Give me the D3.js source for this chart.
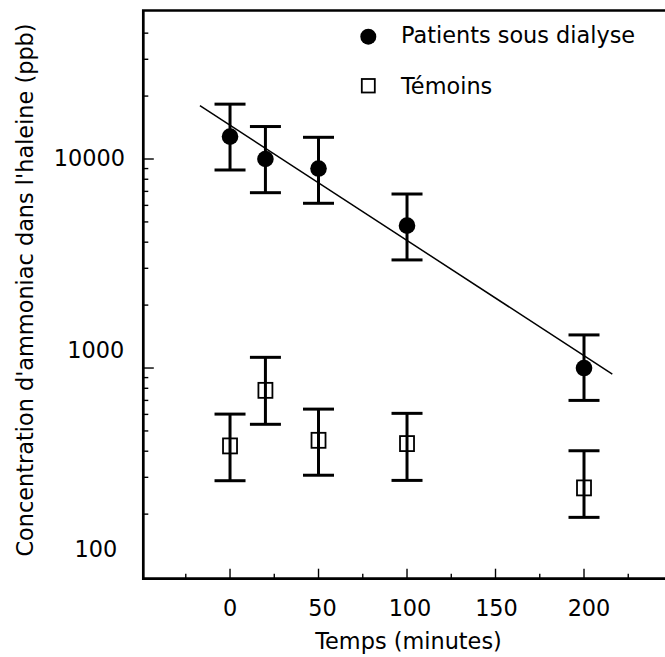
<!DOCTYPE html>
<html>
<head>
<meta charset="utf-8">
<script src="https://cdn.jsdelivr.net/npm/d3@7"></script>
<style>
  html, body { margin: 0; padding: 0; background: #fff; }
  svg { display: block; }
  text { font-family: "DejaVu Sans", sans-serif; fill: #000; }
</style>
</head>
<body>
<svg id="chart" width="665" height="657"></svg>
<script>
// ---- data ----
const times = [0, 20, 50, 100, 200];
const patients = [12800, 10000, 9000, 4800, 1000];
const patientsHigh = [18300, 14300, 12700, 6800, 1440];
const patientsLow = [8860, 6900, 6140, 3290, 700];
const temoins = [424, 782, 451, 435, 267];
const temoinsHigh = [602, 1125, 636, 607, 402];
const temoinsLow = [289, 538, 307, 290, 193];
const fitX = [-17, 216];
const fitY = [18000, 935];
const xTicks = [0, 50, 100, 150, 200];
const xMinorTicks = [-25, 25, 75, 125, 175, 225];
const yTicks = [100, 1000, 10000];
const yTickLabels = ["100", "1000", "10000"];
const yMinorTicks = [200, 300, 400, 500, 600, 700, 800, 900,
  2000, 3000, 4000, 5000, 6000, 7000, 8000, 9000, 20000, 30000, 40000];
const seriesNames = ["Patients sous dialyse", "Témoins"];
const xLabel = "Temps (minutes)";
const yLabel = "Concentration d'ammoniac dans l'haleine (ppb)";

// ---- layout ----
const svg = d3.select("#chart");
const pLeft = 143.3, pRight = 672.5, pTop = 10.5, pBottom = 578.7;
const x = d3.scaleLinear().domain([-49, 250]).range([pLeft, pRight]);
const y = d3.scaleLog().domain([98.2, 51340]).range([pBottom, pTop]);
const FS = 22.4;

// spines (left, top, bottom)
svg.append("path")
  .attr("d", `M${pRight},${pTop}H${pLeft}V${pBottom}H${pRight}`)
  .attr("fill", "none").attr("stroke", "#000").attr("stroke-width", 2.7);

// ticks (inward)
const gTicks = svg.append("g").attr("stroke", "#000").attr("stroke-width", 1.4);
yTicks.filter(v => y(v) < pBottom - 3).forEach(v => {
  gTicks.append("line").attr("x1", pLeft).attr("x2", pLeft + 10.5)
    .attr("y1", y(v)).attr("y2", y(v));
});
yMinorTicks.forEach(v => {
  gTicks.append("line").attr("x1", pLeft).attr("x2", pLeft + 5)
    .attr("y1", y(v)).attr("y2", y(v));
});
xTicks.forEach(v => {
  gTicks.append("line").attr("x1", x(v)).attr("x2", x(v))
    .attr("y1", pBottom).attr("y2", pBottom - 10);
});
xMinorTicks.forEach(v => {
  gTicks.append("line").attr("x1", x(v)).attr("x2", x(v))
    .attr("y1", pBottom).attr("y2", pBottom - 5);
});

// y tick labels (positions as in the reference)
const yLabelDx = [117.3, 124.3, 125];
const yLabelDy = [-20.5, -9.8, 7];
yTicks.forEach((v, i) => {
  svg.append("text").attr("x", yLabelDx[i]).attr("y", y(v) + yLabelDy[i])
    .attr("text-anchor", "end").attr("font-size", FS).text(yTickLabels[i]);
});
// x tick labels
const xLabelDx = [0, 4, 3, 1, 5];
xTicks.forEach((v, i) => {
  svg.append("text").attr("x", x(v) + xLabelDx[i]).attr("y", 616)
    .attr("text-anchor", "middle").attr("font-size", FS).text(String(v));
});

// axis titles
svg.append("text").attr("x", 408.5).attr("y", 649)
  .attr("text-anchor", "middle").attr("font-size", FS).text(xLabel);
svg.append("text").attr("transform", "translate(33,290) rotate(-90)")
  .attr("text-anchor", "middle").attr("font-size", FS).text(yLabel);

// regression line
svg.append("line")
  .attr("x1", x(fitX[0])).attr("y1", y(fitY[0]))
  .attr("x2", x(fitX[1])).attr("y2", y(fitY[1]))
  .attr("stroke", "#000").attr("stroke-width", 1.5);

// error bars
function errorBars(hi, lo) {
  const g = svg.append("g").attr("stroke", "#000").attr("stroke-width", 3);
  times.forEach((t, i) => {
    const cx = x(t);
    g.append("line").attr("x1", cx).attr("x2", cx).attr("y1", y(hi[i])).attr("y2", y(lo[i]));
    g.append("line").attr("x1", cx - 15.5).attr("x2", cx + 15.5).attr("y1", y(hi[i])).attr("y2", y(hi[i]));
    g.append("line").attr("x1", cx - 15.5).attr("x2", cx + 15.5).attr("y1", y(lo[i])).attr("y2", y(lo[i]));
  });
}
errorBars(patientsHigh, patientsLow);
errorBars(temoinsHigh, temoinsLow);

// markers
svg.append("g").selectAll("circle").data(times).join("circle")
  .attr("cx", d => x(d)).attr("cy", (d, i) => y(patients[i])).attr("r", 8.3)
  .attr("fill", "#000");
svg.append("g").selectAll("rect").data(times).join("rect")
  .attr("x", d => x(d) - 7).attr("y", (d, i) => y(temoins[i]) - 7.5)
  .attr("width", 14).attr("height", 15)
  .attr("fill", "none").attr("stroke", "#000").attr("stroke-width", 1.8);

// legend
const lg = svg.append("g");
lg.append("circle").attr("cx", 368.3).attr("cy", 36.7).attr("r", 8).attr("fill", "#000");
lg.append("rect").attr("x", 361.8).attr("y", 79).attr("width", 13).attr("height", 13.5)
  .attr("fill", "none").attr("stroke", "#000").attr("stroke-width", 1.8);
lg.append("text").attr("x", 401).attr("y", 43.3).attr("font-size", FS).text(seriesNames[0]);
lg.append("text").attr("x", 401).attr("y", 94).attr("font-size", FS).text(seriesNames[1]);
</script>
</body>
</html>
